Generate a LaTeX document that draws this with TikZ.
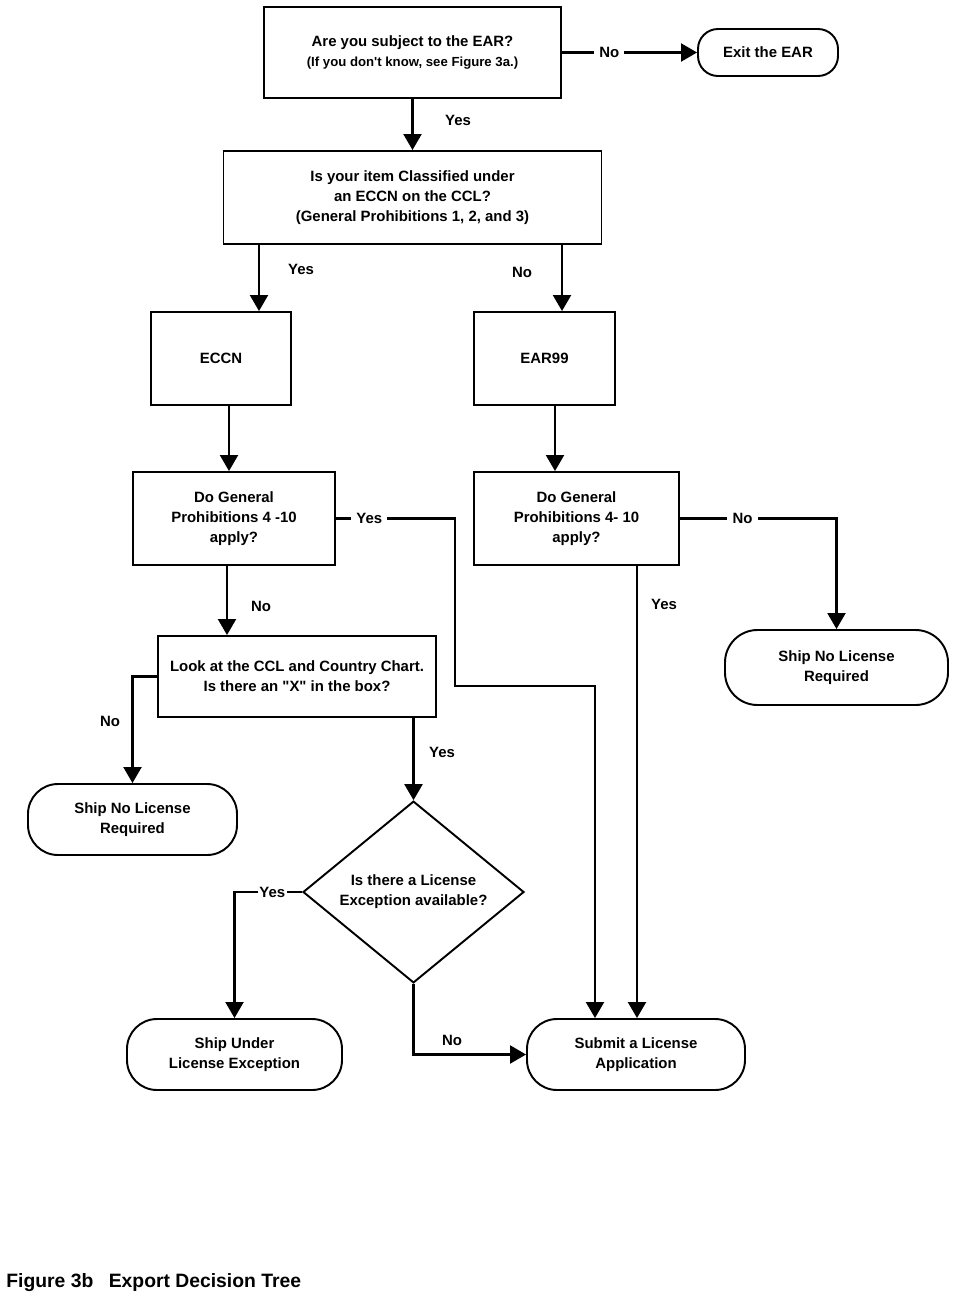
\documentclass[tikz,border=0pt]{standalone}
\usepackage{fontspec}
\setmainfont{Liberation Sans}[Ligatures=TeXOff]
\usetikzlibrary{arrows.meta,shapes.geometric}

\tikzset{
  box/.style={draw, line width=1.1pt, align=center, inner sep=2pt,
    font=\fontsize{8.5}{11.4}\selectfont\bfseries},
  term/.style={box, rounded corners=0.6cm},
  ask/.style={box, diamond, inner sep=0pt},
  arr/.style={line width=1.2pt, -{Triangle[length=0.32cm,width=0.36cm]}},
  lbl/.style={font=\fontsize{8.5}{11.4}\selectfont\bfseries, inner sep=1pt},
  onl/.style={lbl, fill=white, inner sep=3pt}
}

\begin{document}
\begin{tikzpicture}
        \useasboundingbox (0,0) rectangle (19.1,-26.04);
        \node[box, minimum width=5.94cm, minimum height=1.82cm] (subj) at (8.25,-1.05)
          {Are you subject to the EAR?\\{\fontsize{7.5}{9}\selectfont (If you don\symbol{39}t know, see Figure 3a.)}};
        \node[term, rounded corners=0.4cm, minimum width=2.8cm, minimum height=0.94cm] (exit) at (15.36,-1.05) {Exit the EAR};
        \node[box, minimum width=7.56cm, minimum height=1.86cm] (ccl) at (8.25,-3.95)
          {Is your item Classified under\\an ECCN on the CCL?\\(General Prohibitions 1, 2, and 3)};
        \node[box, minimum width=2.8cm, minimum height=1.86cm] (eccn) at (4.42,-7.17) {ECCN};
        \node[box, minimum width=2.82cm, minimum height=1.86cm] (ear99) at (10.89,-7.17) {EAR99};
        \node[box, minimum width=4.04cm, minimum height=1.86cm] (gpa) at (4.68,-10.37)
          {Do General\\Prohibitions 4 -10\\apply?};
        \node[box, minimum width=4.1cm, minimum height=1.86cm] (gpb) at (11.53,-10.37)
          {Do General\\Prohibitions 4- 10\\apply?};
        \node[term, rounded corners=0.65cm, minimum width=4.46cm, minimum height=1.5cm] (shipr) at (16.73,-13.35)
          {Ship No License\\Required};
        \node[box, minimum width=5.56cm, minimum height=1.62cm] (look) at (5.94,-13.53)
          {Look at the CCL and Country Chart.\\Is there an \symbol{34}X\symbol{34} in the box?};
        \node[term, minimum width=4.18cm, minimum height=1.42cm] (shipl) at (2.65,-16.39)
          {Ship No License\\Required};
        \node[ask, minimum width=4.42cm, minimum height=3.36cm] (lic) at (8.27,-17.84)
          {Is there a License\\Exception available?};
        \node[term, minimum width=4.3cm, minimum height=1.42cm] (under) at (4.69,-21.09)
          {Ship Under\\License Exception};
        \node[term, minimum width=4.36cm, minimum height=1.42cm] (submit) at (12.72,-21.09)
          {Submit a License\\Application};
        \node[anchor=west, inner sep=0pt, font=\fontsize{11}{13}\selectfont\bfseries] (cap) at (0.12,-25.66)
          {Figure 3b\hskip 0.8em Export Decision Tree};

        \coordinate (xa) at (5.18,0);
        \coordinate (xb) at (11.24,0);
        \coordinate (xc) at (4.58,0);
        \coordinate (xd) at (11.1,0);
        \coordinate (xe) at (4.54,0);
        \coordinate (ya) at (9.1,-13.72);
        \coordinate (yb) at (11.9,-13.72);
        \coordinate (xf) at (12.74,0);

        \draw[arr] (subj.east) -- node[onl, pos=0.35] {No} (exit.west);
        \draw[arr] (subj) -- (ccl);
        \node[lbl] (y1) at (9.16,-2.4) {Yes};
        \draw[arr] (ccl.south -| xa) -- (eccn.north -| xa);
        \node[lbl] (y2) at (6.02,-5.38) {Yes};
        \draw[arr] (ccl.south -| xb) -- (ear99.north -| xb);
        \node[lbl] (n2) at (10.44,-5.44) {No};
        \draw[arr] (eccn.south -| xc) -- (gpa.north -| xc);
        \draw[arr] (ear99.south -| xd) -- (gpb.north -| xd);
        \draw[arr] (gpa.east) -- node[onl, pos=0.28] {Yes} (gpa.east -| ya) -- (ya) -- (yb) -- (submit.north -| yb);
        \draw[arr] (gpb.east) -| node[onl, pos=0.2] {No} (shipr.north);
        \draw[arr] (gpb.south -| xf) -- (submit.north -| xf);
        \node[lbl] (y3) at (13.28,-12.08) {Yes};
        \draw[arr] (gpa.south -| xe) -- (look.north -| xe);
        \node[lbl] (n3) at (5.22,-12.12) {No};
        \draw[arr] (look.west) -| (shipl.north);
        \node[lbl] (n4) at (2.2,-14.42) {No};
        \draw[arr] (look.south -| lic.north) -- (lic.north);
        \node[lbl] (y4) at (8.84,-15.04) {Yes};
        \draw[arr] (lic.west) -| node[onl, pos=0.22, inner sep=1pt] {Yes} (under.north);
        \draw[arr] (lic.south) |- (submit.west);
        \node[lbl] (n5) at (9.04,-20.8) {No};
    \end{tikzpicture}
\end{document}
